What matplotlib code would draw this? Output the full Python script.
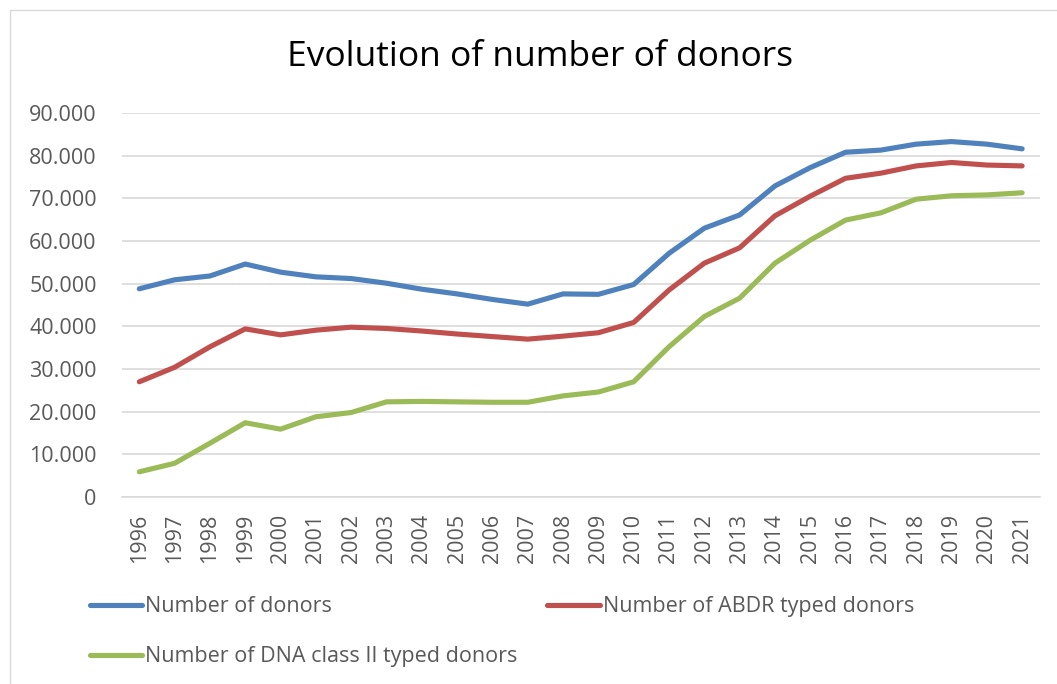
import matplotlib.pyplot as plt
from matplotlib.patches import Rectangle
from matplotlib.ticker import FuncFormatter

plt.rcParams['font.family'] = ['Open Sans', 'DejaVu Sans']

years = list(range(1996, 2022))

# values
donors = [48800, 50900, 51800, 54600, 52700, 51600, 51200, 50100, 48700, 47600,
          46300, 45200, 47600, 47500, 49800, 57100, 63000, 66100, 72900, 77200,
          80800, 81300, 82700, 83300, 82700, 81600]
abdr = [27000, 30400, 35200, 39400, 38000, 39100, 39800, 39500, 38900, 38200,
        37600, 37000, 37700, 38500, 40900, 48500, 54800, 58400, 65900, 70500,
        74700, 75900, 77600, 78400, 77800, 77600]
dna2 = [5900, 7900, 12600, 17400, 15900, 18800, 19800, 22300, 22400, 22300,
        22200, 22200, 23700, 24600, 27000, 35200, 42300, 46600, 54800, 60200,
        64900, 66600, 69800, 70600, 70800, 71300]

labels = ['Number of donors', 'Number of ABDR typed donors', 'Number of DNA class II typed donors']
colors = ['#4F81BD', '#C0504D', '#9BBB59']
txt = '#595959'

fig = plt.figure(figsize=(10.57, 6.84), dpi=100)
ax = fig.add_axes([0.1151, 0.2734, 0.8686, 0.5614])

x = list(range(len(years)))
h1, = ax.plot(x, donors, color=colors[0], lw=3.7, solid_capstyle='round', solid_joinstyle='round')
h2, = ax.plot(x, abdr, color=colors[1], lw=3.7, solid_capstyle='round', solid_joinstyle='round')
h3, = ax.plot(x, dna2, color=colors[2], lw=3.7, solid_capstyle='round', solid_joinstyle='round')

ax.set_xlim(-0.5, len(years) - 0.5)
ax.set_ylim(0, 90000)
ax.set_yticks(range(0, 90001, 10000))
ax.yaxis.set_major_formatter(FuncFormatter(lambda v, p: '0' if v == 0 else f'{int(v):,}'.replace(',', '.')))
ax.set_xticks(x)
ax.set_xticklabels([str(y) for y in years], rotation=90)
ax.tick_params(axis='both', length=0, labelsize=15.5, colors=txt)
ax.tick_params(axis='x', pad=12)
ax.tick_params(axis='y', pad=18)
ax.grid(axis='y', color='#d9d9d9', lw=1.2)
ax.set_axisbelow(True)
for s in ['top', 'right', 'left']:
    ax.spines[s].set_visible(False)
ax.spines['bottom'].set_color('#d9d9d9')
ax.spines['bottom'].set_linewidth(1.2)

fig.text(0.511, 0.917, 'Evolution of number of donors', ha='center', va='center',
         fontsize=25.5, color='black')

# legend is filled column-wise, so order handles to get the row layout
fig.legend([h1, h3, h2], [labels[0], labels[2], labels[1]], ncol=2,
           loc='center left', bbox_to_anchor=(0.0745, 0.0765),
           bbox_transform=fig.transFigure, frameon=False, borderpad=0,
           fontsize=15.5, handlelength=2.45, handletextpad=0.15,
           columnspacing=1.35, labelspacing=1.35, labelcolor=txt)

fig.patches.append(Rectangle((0.0095, -0.01), 1.0, 0.995, transform=fig.transFigure,
                             fill=False, edgecolor='#d9d9d9', lw=1))

fig.savefig('out.png', dpi=100)
